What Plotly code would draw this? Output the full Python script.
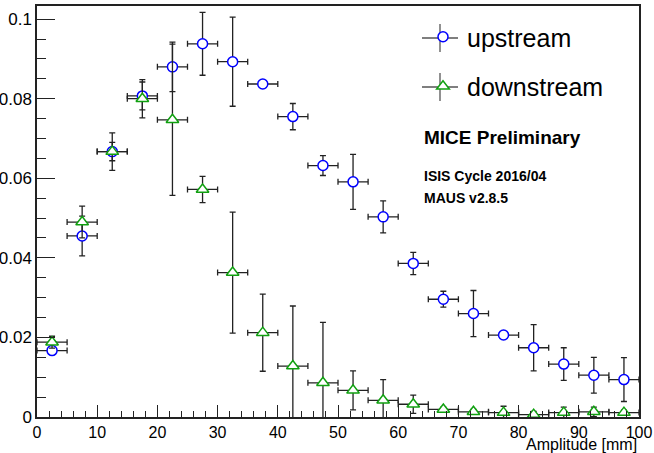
import plotly.graph_objects as go

# Bin centres of the amplitude histogram [mm] and half bin width
amplitude = [2.5, 7.5, 12.5, 17.5, 22.5, 27.5, 32.5, 37.5, 42.5, 47.5,
             52.5, 57.5, 62.5, 67.5, 72.5, 77.5, 82.5, 87.5, 92.5, 97.5]
half_bin = [2.5] * len(amplitude)

upstream = [0.0167, 0.0455, 0.0667, 0.0807, 0.0880, 0.0938, 0.0893, 0.0837, 0.0755, 0.0632,
            0.0591, 0.0503, 0.0386, 0.0296, 0.0260, 0.0206, 0.0174, 0.0133, 0.0105, 0.0094]
upstream_err = [0.0008, 0.0050, 0.0023, 0.0035, 0.0062, 0.0079, 0.0112, 0.0008, 0.0033, 0.0025,
                0.0069, 0.0040, 0.0028, 0.0020, 0.0058, 0.0006, 0.0058, 0.0041, 0.0045, 0.0055]

downstream = [0.0188, 0.0490, 0.0667, 0.0800, 0.0747, 0.0572, 0.0363, 0.0212, 0.0128, 0.0086,
              0.0067, 0.0042, 0.0032, 0.0019, 0.0013, 0.0011, 0.0006, 0.0011, 0.0013, 0.0011]
downstream_err = [0.0015, 0.0040, 0.0047, 0.0048, 0.0190, 0.0033, 0.0152, 0.0097, 0.0151, 0.0152,
                  0.0049, 0.0052, 0.0023, 0.0006, 0.0006, 0.0016, 0.0008, 0.0014, 0.0012, 0.0006]

x_ticks = [0, 10, 20, 30, 40, 50, 60, 70, 80, 90, 100]
y_ticks = [0, 0.02, 0.04, 0.06, 0.08, 0.1]
y_tick_labels = ["0", "0.02", "0.04", "0.06", "0.08", "0.1"]

FONT = "Liberation Sans, Arial, Helvetica, sans-serif"
ERR = "#222222"
BLUE = "#0000ff"
GREEN = "#10a010"

W, H = 654, 453
ML, MR, MT, MB = 37, 15, 6, 36
PW, PH = W - ML - MR, H - MT - MB


def px_x(px):
    return (px - ML) / PW


def px_y(py):
    return (H - MB - py) / PH


fig = go.Figure()
fig.add_trace(go.Scatter(
    x=amplitude, y=upstream, mode="markers", name="upstream", legendgroup="u",
    marker=dict(symbol="circle", size=10, color="white", line=dict(color=BLUE, width=1.5)),
    error_x=dict(type="data", array=half_bin, color=ERR, thickness=1.3, width=3),
    error_y=dict(type="data", array=upstream_err, color=ERR, thickness=1.3, width=3),
))
fig.add_trace(go.Scatter(
    x=amplitude, y=downstream, mode="markers", name="downstream", legendgroup="d",
    marker=dict(symbol="triangle-up", size=11, color="white", line=dict(color=GREEN, width=1.5)),
    error_x=dict(type="data", array=half_bin, color=ERR, thickness=1.3, width=3),
    error_y=dict(type="data", array=downstream_err, color=ERR, thickness=1.3, width=3),
))

fig.update_layout(
    width=W, height=H,
    margin=dict(l=ML, r=MR, t=MT, b=MB, autoexpand=False),
    paper_bgcolor="white", plot_bgcolor="white",
    font=dict(family=FONT, color="black", size=16),
    showlegend=True,
    legend=dict(x=px_x(419), y=px_y(14), xanchor="left", yanchor="top",
                font=dict(size=25, family=FONT), bgcolor="rgba(0,0,0,0)",
                traceorder="grouped", tracegroupgap=14, itemwidth=38),
    xaxis=dict(range=[0, 100], tickvals=x_ticks, ticktext=[str(v) for v in x_ticks],
               ticks="inside", ticklen=12, tickwidth=1.2, tickcolor="#222",
               minor=dict(dtick=2, ticks="inside", ticklen=6, tickwidth=1.2, tickcolor="#222"),
               showline=True, linecolor="#222", linewidth=1.5, mirror=True,
               showgrid=False, zeroline=False, tickfont=dict(size=16), automargin=False),
    yaxis=dict(range=[0, 0.1033], tickvals=y_ticks, ticktext=y_tick_labels,
               ticks="inside", ticklen=18, tickwidth=1.2, tickcolor="#222",
               minor=dict(dtick=0.005, ticks="inside", ticklen=9, tickwidth=1.2, tickcolor="#222"),
               showline=True, linecolor="#222", linewidth=1.5, mirror=True,
               showgrid=False, zeroline=False, tickfont=dict(size=17), automargin=False),
)

# error-bar crosses behind the legend symbols (ROOT "LEP" legend style)
for cy in (38, 87):
    fig.add_shape(type="line", xref="paper", yref="paper",
                  x0=px_x(422), x1=px_x(458), y0=px_y(cy), y1=px_y(cy),
                  line=dict(color="#555555", width=1.3), layer="above")
    fig.add_shape(type="line", xref="paper", yref="paper",
                  x0=px_x(440), x1=px_x(440), y0=px_y(cy - 14), y1=px_y(cy + 14),
                  line=dict(color="#555555", width=1.3), layer="above")

# x-axis title, right-aligned at the end of the axis (ROOT style)
fig.add_annotation(text="Amplitude [mm]", xref="paper", yref="paper",
                   x=1.0, y=px_y(444), xanchor="right", yanchor="middle", showarrow=False,
                   font=dict(size=16, family=FONT))

fig.add_annotation(text="<b>MICE Preliminary</b>", xref="paper", yref="paper",
                   x=px_x(422), y=px_y(137), xanchor="left", yanchor="middle", showarrow=False,
                   font=dict(size=19, family=FONT))
fig.add_annotation(text="<b>ISIS Cycle 2016/04</b>", xref="paper", yref="paper",
                   x=px_x(422), y=px_y(176), xanchor="left", yanchor="middle", showarrow=False,
                   font=dict(size=14, family=FONT))
fig.add_annotation(text="<b>MAUS v2.8.5</b>", xref="paper", yref="paper",
                   x=px_x(422), y=px_y(198), xanchor="left", yanchor="middle", showarrow=False,
                   font=dict(size=14, family=FONT))

fig.write_html("out.html", config={"displayModeBar": False},
               post_script="document.body.style.margin='0px';")
